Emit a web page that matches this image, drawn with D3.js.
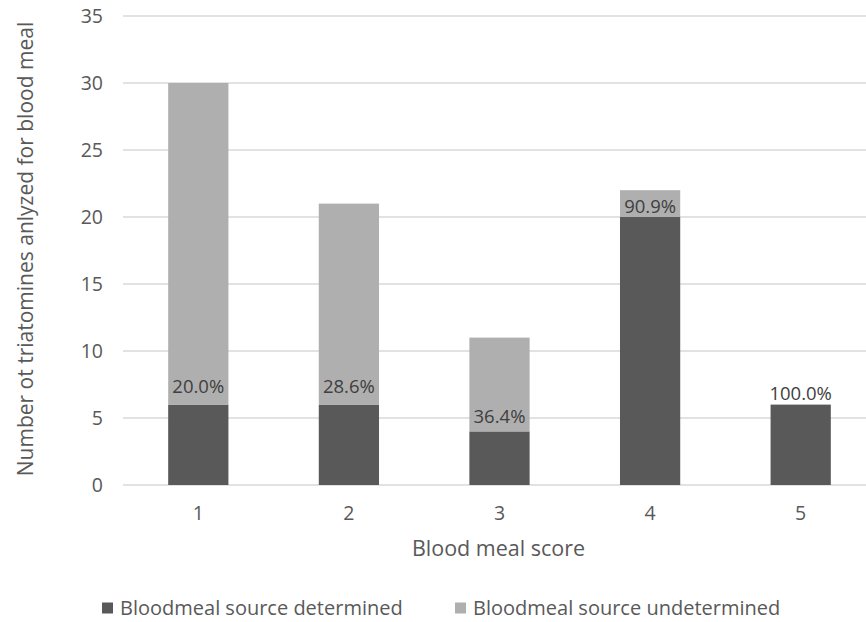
<!DOCTYPE html>
<html><head><meta charset="utf-8">
<script src="https://cdn.jsdelivr.net/npm/d3@7"></script>
<style>body{margin:0;background:#fff;} text{font-family:"Open Sans",sans-serif;}</style>
</head><body><svg id="c" width="866" height="622"></svg>
<script>
const categories = ["1","2","3","4","5"];
const determined = [6, 6, 4, 20, 6];
const undetermined = [24, 15, 7, 2, 0];
const pctLabels = ["20.0%","28.6%","36.4%","90.9%","100.0%"];
const yTicks = [0,5,10,15,20,25,30,35];
const seriesNames = ["Bloodmeal source determined","Bloodmeal source undetermined"];
const colors = ["#595959","#afafaf"];

// layout (not data): vertical gap of each percentage label above the dark segment
const labelGap = [12, 12, 8, 4, 5];

const svg = d3.select("#c");
const m = {l:123, r:866, t:16, b:485};
const x = d3.scaleBand().domain(categories).range([123, 876]).paddingInner(0.6).paddingOuter(0.3);
const y = d3.scaleLinear().domain([0,35]).range([m.b, m.t]);

// gridlines
svg.append("g").selectAll("line").data(yTicks).join("line")
  .attr("x1", m.l).attr("x2", m.r).attr("y1", d=>y(d)).attr("y2", d=>y(d))
  .attr("stroke", "#d9d9d9").attr("stroke-width", 1.3);

// y tick labels
svg.append("g").selectAll("text").data(yTicks).join("text")
  .attr("x", 103).attr("y", d=>y(d)).attr("dy","0.36em").attr("text-anchor","end")
  .attr("fill","#595959").attr("font-size", 19.5).text(d=>d);

// x tick labels
svg.append("g").selectAll("text").data(categories).join("text")
  .attr("x", d=>x(d)+x.bandwidth()/2).attr("y", 513).attr("dy","0.36em").attr("text-anchor","middle")
  .attr("fill","#595959").attr("font-size", 19.5).text(d=>d);

const stackData = categories.map((c,i)=>({cat:c, det:determined[i], und:undetermined[i]}));
const stack = d3.stack().keys(["det","und"])(stackData);
svg.append("g").selectAll("g").data(stack).join("g").attr("fill",(d,i)=>colors[i])
  .selectAll("rect").data(d=>d).join("rect")
  .attr("x", d=>x(d.data.cat)).attr("width", x.bandwidth())
  .attr("y", d=>y(d[1])).attr("height", d=>y(d[0])-y(d[1]));

// percent labels
svg.append("g").selectAll("text").data(stackData).join("text")
  .attr("x", d=>x(d.cat)+x.bandwidth()/2).attr("y", (d,i)=>y(d.det)-labelGap[i])
  .attr("text-anchor","middle").attr("fill","#404040").attr("font-size", 18.5)
  .text((d,i)=>pctLabels[i]);

// axis titles
svg.append("text").attr("x", 498.5).attr("y", 548).attr("dy","0.36em").attr("text-anchor","middle")
  .attr("fill","#595959").attr("font-size", 21.5).text("Blood meal score");
svg.append("text").attr("transform","translate(25,249) rotate(-90)").attr("dy","0.36em").attr("text-anchor","middle")
  .attr("fill","#595959").attr("font-size", 21).text("Number ot triatomines anlyzed for blood meal");

// legend
const lx = [102, 455];
const lg = svg.append("g").selectAll("g").data(seriesNames).join("g")
  .attr("transform",(d,i)=>`translate(${lx[i]},608)`);
lg.append("rect").attr("x",0).attr("y",-5.5).attr("width",11).attr("height",11).attr("fill",(d,i)=>colors[i]);
lg.append("text").attr("x",18).attr("y",0).attr("dy","0.36em").attr("fill","#595959").attr("font-size",20).text(d=>d);
</script></body></html>
